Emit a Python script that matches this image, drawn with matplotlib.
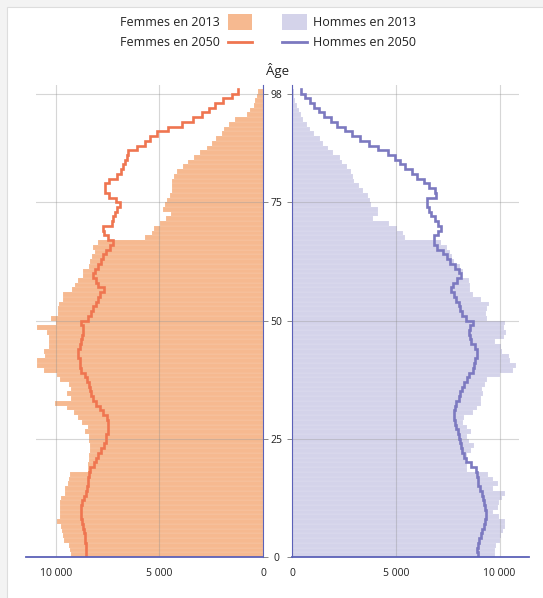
import numpy as np
import matplotlib
matplotlib.use("Agg")
import matplotlib.pyplot as plt
from matplotlib.patches import Rectangle
from matplotlib.lines import Line2D

plt.rcParams['font.family'] = ['Open Sans', 'DejaVu Sans']

# âges 0 à 98
ages = np.arange(99)

femmes_2013 = [
    9250, 9300, 9380, 9600, 9650, 9700, 9750, 9950, 9800, 9800,        # 0-9
    9780, 9780, 9750, 9550, 9550, 9400, 9350, 9300, 8450, 8420,        # 10-19
    8400, 8400, 8350, 8350, 8400, 8400, 8600, 8450, 8750, 8900,        # 20-29
    9100, 9450, 10050, 9250, 9450, 9250, 9350, 9800, 9950, 10580,      # 30-39
    10900, 10900, 10500, 10550, 10300, 10300, 10300, 10420, 10880, 10000,  # 40-49
    10250, 9900, 9900, 9850, 9650, 9650, 9200, 9050, 8900, 8700,       # 50-59
    8700, 8400, 8350, 8250, 8100, 8200, 7950, 5700, 5350, 5250,        # 60-69
    4950, 4700, 4450, 4800, 4750, 4650, 4500, 4400, 4400, 4400,        # 70-79
    4300, 4150, 3850, 3600, 3350, 3050, 2700, 2450, 2250, 2000,        # 80-89
    1900, 1650, 1350, 750, 620, 450, 370, 300, 260,                    # 90-98
]

femmes_2050 = [
    8550, 8550, 8520, 8600, 8600, 8650, 8680, 8720, 8760, 8760,
    8760, 8720, 8650, 8550, 8500, 8450, 8440, 8400, 8330, 8150,
    8050, 7950, 7800, 7650, 7580, 7550, 7500, 7470, 7480, 7520,
    7700, 7870, 8050, 8200, 8280, 8350, 8400, 8500, 8600, 8800,
    8850, 8850, 8900, 8920, 8850, 8760, 8720, 8680, 8700, 8760,
    8450, 8300, 8200, 8070, 7950, 7870, 7650, 7950, 8050, 8190,
    8100, 7950, 7800, 7700, 7550, 7400, 7250, 7500, 7650, 7700,
    7300, 7250, 7150, 7050, 6900, 7100, 7450, 7600, 7600, 7450,
    7050, 6850, 6750, 6650, 6550, 6500, 6100, 5700, 5450, 5100,
    4600, 3900, 3400, 2950, 2600, 2300, 1950, 1500, 1200,
]

hommes_2013 = [
    9800, 9800, 9850, 10000, 10050, 10150, 10250, 10250, 9950, 9700,
    9900, 9950, 10100, 10250, 9700, 9900, 9700, 9450, 8420, 8450,
    8350, 8450, 8600, 8750, 8500, 8450, 8620, 8450, 8250, 8300,
    8700, 8900, 9100, 9100, 9200, 9150, 9300, 9400, 10000, 10650,
    10800, 10500, 10450, 10100, 10050, 9800, 10200, 10300, 10200, 10250,
    9400, 9350, 9400, 9500, 9100, 8700, 8550, 8580, 8500, 8100,
    8250, 8100, 7800, 7700, 7600, 7450, 7150, 5450, 5350, 5050,
    4650, 3900, 4150, 4150, 3800, 3750, 3650, 3400, 3200, 3000,
    2950, 2850, 2650, 2400, 2300, 1950, 1700, 1500, 1350, 1050,
    850, 690, 530, 400, 320, 220, 150, 100, 60,
]

hommes_2050 = [
    8950, 8900, 8950, 9000, 9100, 9150, 9250, 9300, 9350, 9320,
    9280, 9230, 9180, 9140, 9060, 8980, 8950, 8900, 8850, 8600,
    8400, 8300, 8200, 8150, 8100, 8050, 8000, 7900, 7850, 7800,
    7800, 7850, 7900, 8050, 8100, 8180, 8300, 8420, 8500, 8700,
    8750, 8820, 8900, 8900, 8820, 8600, 8550, 8500, 8580, 8700,
    8400, 8200, 8100, 8020, 7900, 7800, 7650, 7750, 7950, 8150,
    8050, 7850, 7600, 7450, 7250, 7000, 6850, 6850, 7050, 7150,
    7050, 6900, 6700, 6600, 6500, 6500, 6950, 6900, 6600, 6350,
    6000, 5750, 5450, 5200, 4950, 4600, 4150, 3700, 3250, 2900,
    2550, 2150, 1850, 1550, 1300, 1050, 850, 600, 430,
]

age_ticks = [0, 25, 50, 75, 98]
val_ticks = [0, 5000, 10000]
val_labels = ['0', '5 000', '10 000']

col_f_bar = '#f6b990'
col_h_bar = '#d4d3ea'
col_f_line = '#ef7550'
col_h_line = '#7c79c0'
col_axis = '#5c61b8'
col_text = '#222222'
XMAX = 10950


def step_xy(values):
    # chaque âge occupe une tranche [a, a+1]
    y = np.column_stack([ages, ages + 1]).ravel()
    x = np.repeat(np.asarray(values), 2)
    return x, y


fig = plt.figure(figsize=(5.43, 5.98), dpi=100)
fig.patch.set_facecolor('#f3f3f3')
fig.patches.append(Rectangle((7 / 543, -0.02), 1.0, 1 - 7 / 598 + 0.02,
                             transform=fig.transFigure, facecolor='white',
                             edgecolor='#dddddd', linewidth=0.8, zorder=-5))

axF = fig.add_axes([36 / 543, 41 / 598, 227 / 543, 472 / 598])
axH = fig.add_axes([292.3 / 543, 41 / 598, 227 / 543, 472 / 598])

for ax, bars, line, cbar, cline in [(axF, femmes_2013, femmes_2050, col_f_bar, col_f_line),
                                     (axH, hommes_2013, hommes_2050, col_h_bar, col_h_line)]:
    ax.set_facecolor('none')
    ax.barh(ages, bars, height=1, align='edge', color=cbar,
            edgecolor=(1, 1, 1, 0.25), linewidth=0.3, zorder=1)
    lx, ly = step_xy(line)
    ax.plot(lx, ly, color=cline, linewidth=1.9, zorder=4, solid_joinstyle='miter')
    ax.set_ylim(0, 99.8)
    ax.set_yticks(age_ticks)
    ax.set_xticks(val_ticks)
    ax.set_xticklabels(val_labels)
    ax.grid(True, color='#8c8c8c', alpha=0.35, linewidth=0.8)
    ax.set_axisbelow(False)
    for s in ax.spines.values():
        s.set_visible(False)
    ax.tick_params(axis='x', length=0, pad=8, labelsize=7.5, labelcolor=col_text)

axF.set_xlim(XMAX, 0)
axH.set_xlim(0, XMAX)

# axe vertical des âges
axF.spines['right'].set_visible(True)
axF.spines['right'].set_color(col_axis)
axF.spines['right'].set_zorder(5)
axH.spines['left'].set_visible(True)
axH.spines['left'].set_color(col_axis)
axH.spines['left'].set_zorder(5)

axF.yaxis.tick_right()
axF.tick_params(axis='y', length=3.5, width=0.7, color='#888888', labelright=False)
axH.tick_params(axis='y', length=3.5, width=0.7, color='#888888', labelsize=7.5,
                labelcolor=col_text, pad=8)
for lab in axH.get_yticklabels():
    lab.set_horizontalalignment('center')

# ligne de base (âge 0), un peu plus longue que les axes
axF.add_line(Line2D([-10 / 227, 1], [0, 0], transform=axF.transAxes, color=col_axis,
                    linewidth=1.3, clip_on=False, zorder=5))
axH.add_line(Line2D([0, 1 + 10 / 227], [0, 0], transform=axH.transAxes, color=col_axis,
                    linewidth=1.3, clip_on=False, zorder=5))

fig.text(277.5 / 543, 1 - 70 / 598, 'Âge', ha='center', va='center', fontsize=9.5, color=col_text)

# légende
r1, r2 = 1 - 22 / 598, 1 - 42 / 598
fig.text(220 / 543, r1, 'Femmes en 2013', ha='right', va='center', fontsize=9, color=col_text)
fig.text(220 / 543, r2, 'Femmes en 2050', ha='right', va='center', fontsize=9, color=col_text)
fig.text(313 / 543, r1, 'Hommes en 2013', ha='left', va='center', fontsize=9, color=col_text)
fig.text(313 / 543, r2, 'Hommes en 2050', ha='left', va='center', fontsize=9, color=col_text)
fig.patches.append(Rectangle((228 / 543, 1 - 30 / 598), 24 / 543, 16 / 598,
                             transform=fig.transFigure, facecolor=col_f_bar, edgecolor='none'))
fig.patches.append(Rectangle((282 / 543, 1 - 30 / 598), 25 / 543, 16 / 598,
                             transform=fig.transFigure, facecolor=col_h_bar, edgecolor='none'))
fig.lines.append(Line2D([228 / 543, 252 / 543], [r2, r2], transform=fig.transFigure,
                        color=col_f_line, linewidth=2))
fig.lines.append(Line2D([282 / 543, 307 / 543], [r2, r2], transform=fig.transFigure,
                        color=col_h_line, linewidth=2))

fig.savefig('out.png', dpi=100, facecolor=fig.get_facecolor())
